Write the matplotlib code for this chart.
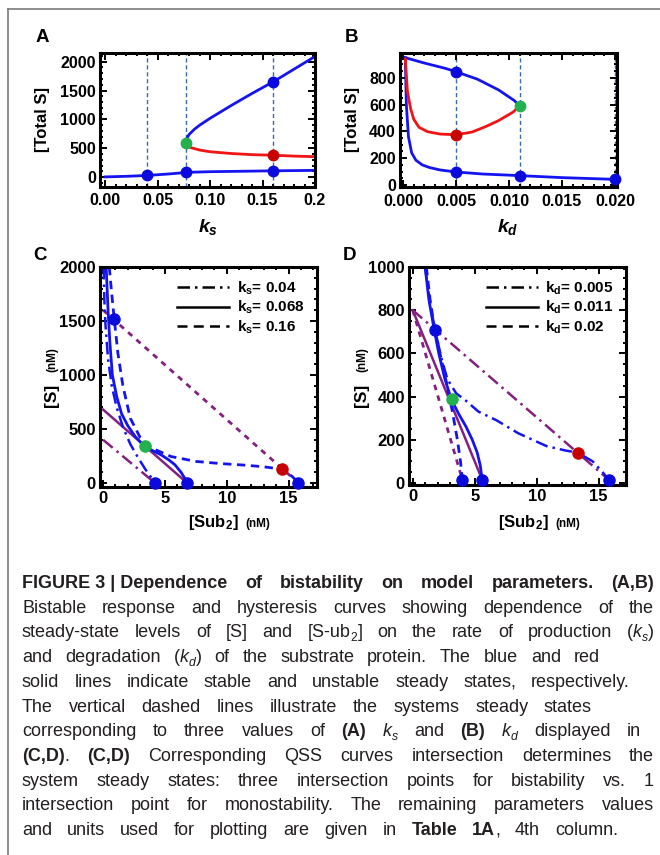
import re
import matplotlib
matplotlib.use('Agg')
import matplotlib.pyplot as plt
from matplotlib.lines import Line2D
from matplotlib.ticker import MultipleLocator, FixedLocator, FixedFormatter
from matplotlib import font_manager as fm

W, H, DPI = 660, 855, 100


def has_font(name):
    try:
        fm.findfont(fm.FontProperties(family=name), fallback_to_default=False)
        return True
    except Exception:
        return False


PLOT_FONT = 'Liberation Sans'
CAP_FONT = 'Liberation Sans Narrow' if has_font('Liberation Sans Narrow') else 'Liberation Sans'
CAP_SIZE = 15 if CAP_FONT == 'Liberation Sans Narrow' else 13

plt.rcParams['font.family'] = [PLOT_FONT, 'DejaVu Sans']
plt.rcParams['mathtext.fontset'] = 'custom'
plt.rcParams['mathtext.rm'] = PLOT_FONT
plt.rcParams['mathtext.it'] = PLOT_FONT + ':italic:bold'
plt.rcParams['mathtext.bf'] = PLOT_FONT + ':bold'

# ---------------- data ----------------
# Panel A: total S vs k_s
a_low_ks = [0.0, 0.02, 0.04, 0.06, 0.08, 0.10, 0.12, 0.14, 0.16, 0.18, 0.20]
a_low_S = [5, 15, 30, 55, 85, 95, 100, 105, 110, 114, 118]
a_up_ks = [0.077, 0.078, 0.080, 0.085, 0.09, 0.10, 0.12, 0.14, 0.16, 0.18, 0.20]
a_up_S = [600, 680, 740, 830, 900, 1020, 1240, 1450, 1650, 1870, 2090]
a_mid_ks = [0.077, 0.08, 0.09, 0.10, 0.12, 0.14, 0.16, 0.18, 0.20]
a_mid_S = [600, 520, 470, 440, 410, 390, 380, 365, 355]
a_vlines = [0.04, 0.077, 0.16]
a_blue_pts_x = [0.04, 0.077, 0.16, 0.16]
a_blue_pts_y = [30, 90, 110, 1650]
a_green_pt = (0.077, 600)
a_red_pt = (0.16, 380)

# Panel B: total S vs k_d
b_up_kd = [0.0002, 0.002, 0.004, 0.005, 0.007, 0.009, 0.0105, 0.011]
b_up_S = [950, 910, 870, 845, 790, 710, 630, 591]
b_mid_kd = [0.0002, 0.0004, 0.0007, 0.001, 0.0015, 0.0023, 0.0035, 0.005, 0.0065, 0.0078, 0.009, 0.0104, 0.011]
b_mid_S = [940, 700, 570, 490, 430, 398, 380, 375, 395, 436, 480, 545, 591]
b_low_kd = [0.0002, 0.0003, 0.0005, 0.0008, 0.0012, 0.0018, 0.0025, 0.0035, 0.005, 0.0075, 0.011, 0.015, 0.02]
b_low_S = [950, 600, 360, 240, 185, 150, 130, 112, 97, 82, 70, 55, 42]
b_vlines = [0.005, 0.011, 0.02]
b_blue_pts_x = [0.005, 0.005, 0.011, 0.02]
b_blue_pts_y = [845, 97, 70, 42]
b_green_pt = (0.011, 591)
b_red_pt = (0.005, 375)

# Panel C: QSS curves, k_s = 0.04 / 0.068 / 0.16
c_ks_labels = ['0.04', '0.068', '0.16']
c_b1_x = [0.05, 0.1, 0.2, 0.4, 0.7, 1.1, 1.6, 2.2, 2.8, 3.4, 3.9, 4.2]
c_b1_y = [2000, 1700, 1450, 1150, 900, 700, 520, 360, 240, 130, 50, 0]
c_b2_x = [0.25, 0.4, 0.55, 0.75, 1.1, 1.5, 2.0, 2.6, 3.3, 4.0, 4.7, 5.3, 5.8, 6.3, 6.6, 6.8]
c_b2_y = [2000, 1600, 1300, 1000, 800, 640, 530, 430, 345, 300, 260, 215, 170, 100, 45, 0]
c_b3_x = [0.5, 0.7, 0.9, 1.2, 1.6, 2.2, 3.0, 4.0, 5.5, 7.5, 9.5, 11.5, 13.0, 14.5, 15.3, 15.8]
c_b3_y = [2000, 1750, 1520, 1200, 900, 600, 420, 320, 245, 200, 180, 165, 150, 127, 60, 0]
c_p1_x, c_p1_y = [0, 4.2], [400, 0]
c_p2_x, c_p2_y = [0, 6.8], [680, 0]
c_p3_x, c_p3_y = [0, 15.8], [1600, 0]
c_blue_pts_x = [0.9, 4.2, 6.8, 15.8]
c_blue_pts_y = [1520, 0, 0, 0]
c_green_pt = (3.4, 345)
c_red_pt = (14.5, 130)

# Panel D: QSS curves, k_d = 0.005 / 0.011 / 0.02
d_kd_labels = ['0.005', '0.011', '0.02']
d_b1_x = [1.0, 1.4, 1.8, 2.3, 2.8, 3.5, 4.3, 5.3, 6.75, 8.5, 10.8, 12.3, 13.3, 14.5, 15.3, 15.8]
d_b1_y = [1000, 830, 710, 580, 480, 415, 380, 330, 290, 230, 170, 150, 140, 100, 50, 15]
d_b2_x = [1.0, 1.3, 1.7, 2.1, 2.6, 3.1, 3.7, 4.3, 4.8, 5.2, 5.45, 5.6]
d_b2_y = [1000, 850, 720, 600, 480, 389, 320, 260, 200, 140, 80, 15]
d_b3_x = [1.1, 1.4, 1.75, 2.2, 2.7, 3.2, 3.6, 3.85, 4.0]
d_b3_y = [1000, 850, 720, 600, 470, 330, 200, 100, 15]
d_p1_x, d_p1_y = [0, 15.8], [800, 15]
d_p2_x, d_p2_y = [0, 5.6], [800, 15]
d_p3_x, d_p3_y = [0, 4.0], [800, 15]
d_blue_pts_x = [1.8, 4.0, 5.6, 15.8]
d_blue_pts_y = [710, 15, 15, 15]
d_green_pt = (3.15, 389)
d_red_pt = (13.3, 140)

# Caption ({b:} bold, {i:} italic, {s:} subscript, {si:} italic subscript)
caption_lines = [
    "{b:FIGURE\u00a03\u00a0|\u00a0Dependence of bistability on model parameters. (A,B)}",
    "Bistable response and hysteresis curves showing dependence of the",
    "steady-state levels of [S] and [S-ub{s:2}] on the rate of production ({i:k}{si:s})",
    "and degradation ({i:k}{si:d}) of the substrate protein. The blue and red",
    "solid lines indicate stable and unstable steady states, respectively.",
    "The vertical dashed lines illustrate the systems steady states",
    "corresponding to three values of {b:(A)} {i:k}{si:s} and {b:(B)} {i:k}{si:d} displayed in",
    "{b:(C,D)}. {b:(C,D)} Corresponding QSS curves intersection determines the",
    "system steady states: three intersection points for bistability vs. 1",
    "intersection point for monostability. The remaining parameters values",
    "and units used for plotting are given in {b:Table 1A}, 4th column.",
]
caption_right = [654, 654, 654, 600, 630, 592, 641, 654, 654, 654, 618]

BLUE = '#1414f0'
RED = '#f01414'
PURPLE = '#84207f'
GREEN = '#22b14c'
DRED = '#c80000'
PBLUE = '#0a0adc'
VLINE = '#3a6aa8'

fig = plt.figure(figsize=(W / DPI, H / DPI), dpi=DPI)
fig.patch.set_facecolor('white')


def ax_at(l, t, r, b):
    return fig.add_axes([l / W, 1 - b / H, (r - l) / W, (b - t) / H])


def ftext(x, y, s, **kw):
    return fig.text(x / W, 1 - y / H, s, **kw)


def style(ax, xmaj, xmin, ymaj, ymin, lsize=11.5, xpad=3):
    for sp in ax.spines.values():
        sp.set_linewidth(2.2)
        sp.set_color('black')
    ax.xaxis.set_minor_locator(MultipleLocator(xmin))
    ax.yaxis.set_minor_locator(MultipleLocator(ymin))
    ax.yaxis.set_major_locator(MultipleLocator(ymaj))
    ax.tick_params(which='both', direction='in', top=True, right=True, color='black', width=1.4)
    ax.tick_params(which='major', length=5, labelsize=lsize, pad=3)
    ax.tick_params(axis='x', which='major', pad=xpad)
    ax.tick_params(which='minor', length=2.5)
    for lab in ax.get_xticklabels() + ax.get_yticklabels():
        lab.set_fontweight('bold')


def dots(ax, xs, ys, c, ms=7.5):
    ax.plot(xs, ys, 'o', ms=ms, color=c, mec=c, zorder=6, clip_on=False, ls='none')


# ---------------- Panel A ----------------
axA = ax_at(100, 53, 315, 187)
for v in a_vlines:
    axA.axvline(v, color=VLINE, lw=1.0, dashes=(3, 2), zorder=1)
axA.plot(a_low_ks, a_low_S, color=BLUE, lw=2)
axA.plot(a_up_ks, a_up_S, color=BLUE, lw=2)
axA.plot(a_mid_ks, a_mid_S, color=RED, lw=2)
dots(axA, a_blue_pts_x, a_blue_pts_y, PBLUE)
dots(axA, [a_green_pt[0]], [a_green_pt[1]], GREEN)
dots(axA, [a_red_pt[0]], [a_red_pt[1]], DRED)
axA.set_xlim(-0.005, 0.2)
axA.set_ylim(-170, 2150)
axA.xaxis.set_major_locator(FixedLocator([0, 0.05, 0.10, 0.15, 0.20]))
axA.xaxis.set_major_formatter(FixedFormatter(['0.00', '0.05', '0.10', '0.15', '0.2']))
style(axA, 0.05, 0.01, 500, 100, xpad=4)

# ---------------- Panel B ----------------
axB = ax_at(400, 53, 617, 187)
for v in b_vlines:
    axB.axvline(v, color=VLINE, lw=1.0, dashes=(3, 2), zorder=1)
axB.plot(b_up_kd, b_up_S, color=BLUE, lw=2)
axB.plot(b_low_kd, b_low_S, color=BLUE, lw=2)
axB.plot(b_mid_kd, b_mid_S, color=RED, lw=2)
dots(axB, b_blue_pts_x, b_blue_pts_y, PBLUE)
dots(axB, [b_green_pt[0]], [b_green_pt[1]], GREEN)
dots(axB, [b_red_pt[0]], [b_red_pt[1]], DRED)
axB.set_xlim(-0.0003, 0.0202)
axB.set_ylim(-15, 985)
axB.xaxis.set_major_locator(FixedLocator([0, 0.005, 0.010, 0.015, 0.020]))
axB.xaxis.set_major_formatter(FixedFormatter(['0.000', '0.005', '0.010', '0.015', '0.020']))
style(axB, 0.005, 0.001, 200, 50, xpad=5)

# ---------------- Panel C ----------------
axC = ax_at(100, 267, 317, 487)
axC.plot(c_p1_x, c_p1_y, color=PURPLE, lw=1.8, dashes=(5, 2, 1, 2))
axC.plot(c_p2_x, c_p2_y, color=PURPLE, lw=1.8)
axC.plot(c_p3_x, c_p3_y, color=PURPLE, lw=2, dashes=(2, 2))
axC.plot(c_b1_x, c_b1_y, color=BLUE, lw=1.8, dashes=(5, 2, 1, 2))
axC.plot(c_b2_x, c_b2_y, color=BLUE, lw=2)
axC.plot(c_b3_x, c_b3_y, color=BLUE, lw=2, dashes=(3, 2))
dots(axC, c_blue_pts_x, c_blue_pts_y, PBLUE, 8)
dots(axC, [c_green_pt[0]], [c_green_pt[1]], GREEN, 8)
dots(axC, [c_red_pt[0]], [c_red_pt[1]], DRED, 8)
axC.set_xlim(-0.25, 17.3)
axC.set_ylim(-37, 2000)
axC.xaxis.set_major_locator(MultipleLocator(5))
style(axC, 5, 1, 500, 100, 12)
hC = [Line2D([], [], color='black', lw=1.8, dashes=(5, 2, 1, 2)),
      Line2D([], [], color='black', lw=1.8),
      Line2D([], [], color='black', lw=1.8, dashes=(4, 2.5))]
legC = axC.legend(hC, ['k$_\\mathbf{s}$= ' + v for v in c_ks_labels], loc='upper right',
                  frameon=False, handlelength=3.4, handletextpad=0.5, labelspacing=0.15,
                  borderaxespad=0.4, prop={'weight': 'bold', 'size': 11})

# ---------------- Panel D ----------------
axD = ax_at(409, 267, 626, 485)
axD.plot(d_p1_x, d_p1_y, color=PURPLE, lw=1.8, dashes=(5, 2, 1, 2))
axD.plot(d_p2_x, d_p2_y, color=PURPLE, lw=1.8)
axD.plot(d_p3_x, d_p3_y, color=PURPLE, lw=2, dashes=(2, 2))
axD.plot(d_b1_x, d_b1_y, color=BLUE, lw=1.8, dashes=(5, 2, 1, 2))
axD.plot(d_b2_x, d_b2_y, color=BLUE, lw=2)
axD.plot(d_b3_x, d_b3_y, color=BLUE, lw=2, dashes=(3, 2))
dots(axD, d_blue_pts_x, d_blue_pts_y, PBLUE, 8)
dots(axD, [d_green_pt[0]], [d_green_pt[1]], GREEN, 8)
dots(axD, [d_red_pt[0]], [d_red_pt[1]], DRED, 8)
axD.set_xlim(-0.3, 17.2)
axD.set_ylim(-10, 1000)
axD.xaxis.set_major_locator(MultipleLocator(5))
style(axD, 5, 1, 200, 50, 12)
legD = axD.legend(hC, ['k$_\\mathbf{d}$= ' + v for v in d_kd_labels], loc='upper right',
                  frameon=False, handlelength=3.4, handletextpad=0.5, labelspacing=0.15,
                  borderaxespad=0.4, prop={'weight': 'bold', 'size': 11})

# ---------------- panel labels & axis titles ----------------
for (x, y, s) in [(42, 37, 'A'), (352, 37, 'B'), (40, 255, 'C'), (350, 255, 'D')]:
    ftext(x, y, s, ha='center', va='center', fontsize=13.5, fontweight='bold')
ftext(43, 120, '[Total S]', rotation=90, ha='center', va='center', fontsize=12, fontweight='bold')
ftext(352, 120, '[Total S]', rotation=90, ha='center', va='center', fontsize=12, fontweight='bold')
ftext(208, 227, '$k_s$', ha='center', va='center', fontsize=14)
ftext(508, 227, '$k_d$', ha='center', va='center', fontsize=14)
for xo in (0, 310):
    ftext(52 + xo, 395, '[S]', rotation=90, ha='center', va='center', fontsize=12.5, fontweight='bold')
    ftext(52 + xo, 360, '(nM)', rotation=90, ha='center', va='center', fontsize=8.5, fontweight='bold')
    ftext(213 + xo, 523, '[Sub$_\\mathbf{2}$]', ha='center', va='center', fontsize=12, fontweight='bold')
    ftext(258 + xo, 524, '(nM)', ha='center', va='center', fontsize=8.5, fontweight='bold')

# figure frame
fig.add_artist(Line2D([8 / W, 1], [1 - 9 / H, 1 - 9 / H], transform=fig.transFigure, color='#7a7a7a', lw=1.2))
fig.add_artist(Line2D([8 / W, 8 / W], [1 - 9 / H, 0], transform=fig.transFigure, color='#7a7a7a', lw=1.2))

# ---------------- caption (justified) ----------------


def parse(line):
    segs, pos = [], 0
    for m in re.finditer(r'\{(b|i|s|si):([^}]*)\}', line):
        if m.start() > pos:
            segs.append(('n', line[pos:m.start()]))
        segs.append((m.group(1), m.group(2)))
        pos = m.end()
    if pos < len(line):
        segs.append(('n', line[pos:]))
    words = [[]]
    for kind, txt in segs:
        parts = txt.split(' ')
        for j, p in enumerate(parts):
            if j > 0 and words[-1]:
                words.append([])
            if p:
                words[-1].append((kind, p))
    return [w for w in words if w]


renderer = fig.canvas.get_renderer()
left = 22
base0, step = 588, 24.7
for li, line in enumerate(caption_lines):
    words = parse(line)
    ybase = base0 + li * step
    placed = []
    widths = []
    for w in words:
        pieces = []
        wsum = 0
        for kind, txt in w:
            kw = dict(family=[CAP_FONT, 'DejaVu Sans'], fontsize=CAP_SIZE, color='#231f20',
                      va='baseline', ha='left')
            dy = 0
            if kind == 'b':
                kw['fontweight'] = 'bold'
            if kind in ('i', 'si'):
                kw['fontstyle'] = 'italic'
            if kind in ('s', 'si'):
                kw['fontsize'] = CAP_SIZE * 0.68
                dy = CAP_SIZE * 0.3
            t = ftext(0, 0, txt, **kw)
            bb = t.get_window_extent(renderer)
            pieces.append((t, wsum, dy))
            wsum += bb.width
        placed.append(pieces)
        widths.append(wsum)
    natural_gap = CAP_SIZE * 0.25
    n = len(words)
    gap = (caption_right[li] - left - sum(widths)) / (n - 1) if n > 1 else 0
    gap = max(gap, natural_gap)
    x = left
    for pieces, wsum in zip(placed, widths):
        for t, off, dy in pieces:
            t.set_position(((x + off) / W, 1 - (ybase + dy) / H))
        x += wsum + gap

fig.savefig('out.png', dpi=DPI, facecolor='white')
